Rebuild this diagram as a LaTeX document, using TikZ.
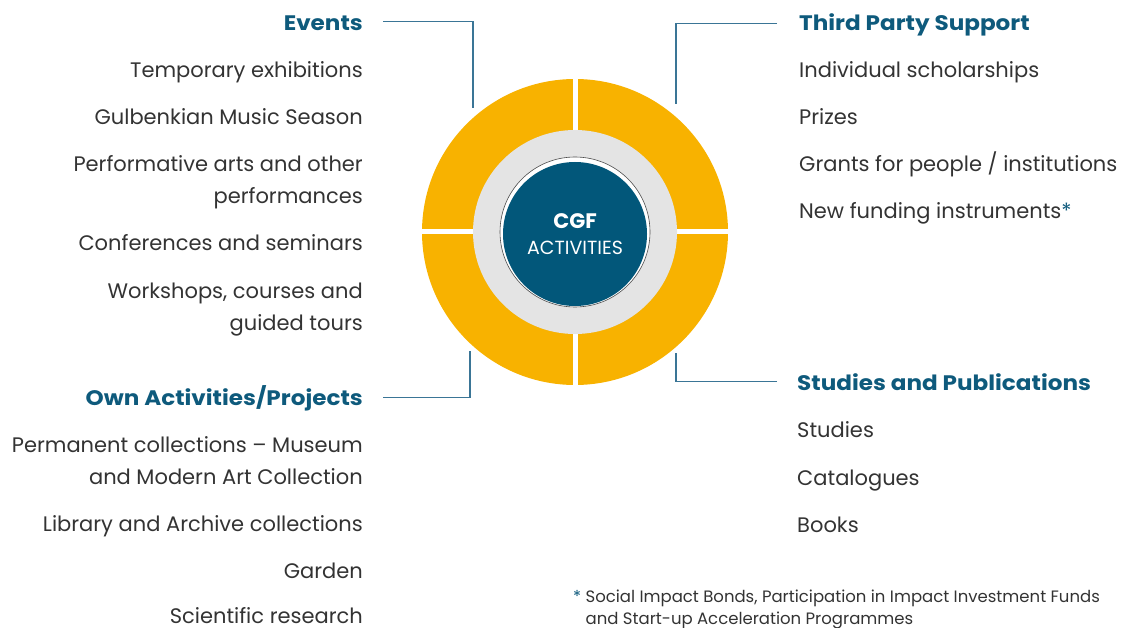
\documentclass[tikz,border=0pt]{standalone}
\usepackage{fontspec}
\setmainfont{Poppins}
\newfontfamily\headfont[FakeStretch=1.1]{Poppins}
\usetikzlibrary{positioning}

\definecolor{cgfblue}{HTML}{02577A}
\definecolor{cgfhead}{HTML}{0E5A7C}
\definecolor{cgfyellow}{HTML}{F8B200}
\definecolor{cgfgray}{HTML}{E4E4E4}
\definecolor{cgfline}{HTML}{3A7596}
\definecolor{cgftext}{HTML}{333333}

\begin{document}
\begin{tikzpicture}[x=1pt, y=-1pt,
    head/.style = {font=\fontsize{21}{24}\selectfont\headfont\bfseries, text=cgfhead, inner sep=0pt},
    item/.style = {font=\fontsize{21}{32}\selectfont, text=cgftext, inner sep=0pt},
    litem/.style = {item, anchor=base east, align=right},
    ritem/.style = {item, anchor=base west, align=left},
    link/.style = {draw=cgfline, line width=1.2pt}]
    \useasboundingbox (0,0) rectangle (1124,628);

    % the ring
    \coordinate (c) at (575,232);
    \fill[cgfyellow] (c) circle (153);
    \draw[white, line width=5pt] ([xshift=-155pt]c) -- ([xshift=155pt]c);
    \draw[white, line width=5pt] ([yshift=155pt]c) -- ([yshift=-155pt]c);
    \fill[cgfgray] (c) circle (102);
    \draw[fill=white, draw=black!70, line width=0.6pt] (c) circle (75);
    \node[circle, fill=cgfblue, minimum size=144pt, inner sep=0pt, text=white, align=center,
          font=\fontsize{19}{26}\selectfont] (hub) at ([yshift=-2pt]c)
        {{\fontsize{21}{26}\selectfont\bfseries CGF}\\ACTIVITIES};

    % left column (multi-line nodes sit on their last baseline)
    \node[head, anchor=base east] (events) at (363,31) {Events};
    \node[litem] (ev1) at (363,78) {Temporary exhibitions};
    \node[litem] (ev2) at (363,125) {Gulbenkian Music Season};
    \node[litem] (ev3) at (363,204) {Performative arts and other\\performances};
    \node[litem] (ev4) at (363,251) {Conferences and seminars};
    \node[litem] (ev5) at (363,330) {Workshops, courses and\\guided tours};

    \node[head, anchor=base east] (own) at (363,405) {Own Activities/Projects};
    \node[litem] (ow1) at (363,484) {Permanent collections -- Museum\\and Modern Art Collection};
    \node[litem] (ow2) at (363,531) {Library and Archive collections};
    \node[litem] (ow3) at (363,578) {Garden};
    \node[litem] (ow4) at (363,623) {Scientific research};

    % right column
    \node[head, anchor=base west] (third) at (799,31) {Third Party Support};
    \node[ritem] (tp1) at (799,78) {Individual scholarships};
    \node[ritem] (tp2) at (799,125) {Prizes};
    \node[ritem] (tp3) at (799,172) {Grants for people / institutions};
    \node[ritem] (tp4) at (799,219) {New funding instruments\textcolor{cgfhead}{*}};

    \node[head, anchor=base west] (studies) at (797,390) {Studies and Publications};
    \node[ritem] (st1) at (797,437) {Studies};
    \node[ritem] (st2) at (797,485) {Catalogues};
    \node[ritem] (st3) at (797,532) {Books};

    \node[anchor=base west, inner sep=0pt, align=left, text=cgftext,
          font=\fontsize{16.5}{22}\selectfont] (note) at (573,624)
        {\textcolor{cgfhead}{*} Social Impact Bonds, Participation in Impact Investment Funds\\
         \hphantom{* }and Start-up Acceleration Programmes};

    % connectors
    \coordinate (evEnd) at (473,108);
    \coordinate (tpEnd) at (676,104);
    \coordinate (owEnd) at (470,351);
    \coordinate (stEnd) at (676,353);
    \draw[link] ([xshift=20pt, yshift=2pt]events.east) -| (evEnd);
    \draw[link] ([xshift=-22pt, yshift=2pt]third.west) -| (tpEnd);
    \draw[link] ([xshift=20pt]own.east) -| (owEnd);
    \draw[link] ([xshift=-20pt]studies.west) -| (stEnd);
\end{tikzpicture}
\end{document}
